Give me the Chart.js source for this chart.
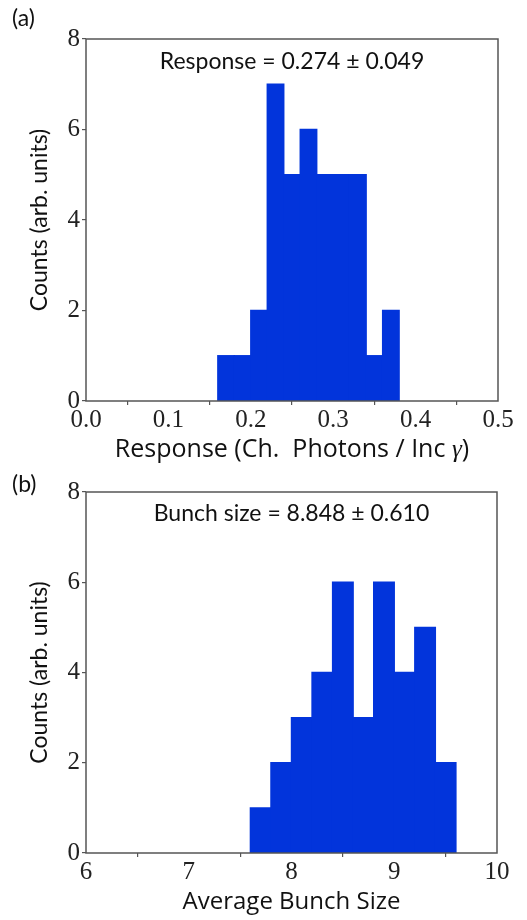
<!DOCTYPE html>
<html>
<head>
<meta charset="utf-8">
<script src="https://cdn.jsdelivr.net/npm/chart.js@4/dist/chart.umd.min.js"></script>
<style>
  body { margin: 0; background: #fff; }
  .panel { position: absolute; left: 0; width: 527px; }
  .tag { position: absolute; font-family: Lato, sans-serif; font-size: 23px; color: #111; }
</style>
</head>
<body>
<div class="panel" style="top:0;height:480px"><canvas id="chartA" width="527" height="480"></canvas></div>
<div class="panel" style="top:460px;height:460px"><canvas id="chartB" width="527" height="460"></canvas></div>
<div class="tag" style="left:12px;top:3px">(a)</div>
<div class="tag" style="left:12px;top:469px">(b)</div>
<script>
// histogram (a): response
const respEdges = [0.16, 0.18, 0.20, 0.22, 0.24, 0.26, 0.28, 0.30, 0.32, 0.34, 0.36, 0.38]
const respCounts = [1, 1, 2, 7, 5, 6, 5, 5, 5, 1, 2]
const respTicks = [0.0, 0.1, 0.2, 0.3, 0.4, 0.5]

// histogram (b): bunch size
const bunchEdges = [7.6, 7.8, 8.0, 8.2, 8.4, 8.6, 8.8, 9.0, 9.2, 9.4, 9.6]
const bunchCounts = [1, 2, 3, 4, 6, 3, 6, 4, 5, 2]
const bunchTicks = [6, 7, 8, 9, 10]

const countTicks = [0, 2, 4, 6, 8]

const barColor = '#0234db'
const axisColor = '#555'

// box round the plot area + note text + x title
const extras = {
  id: 'extras',
  afterDraw(chart, args, opts) {
    const {ctx, chartArea} = chart
    ctx.save()
    ctx.strokeStyle = axisColor
    ctx.lineWidth = 1.5
    ctx.strokeRect(chartArea.left, chartArea.top, chartArea.width, chartArea.height)
    const cx = (chartArea.left + chartArea.right) / 2
    ctx.fillStyle = '#111'
    ctx.textBaseline = 'middle'
    ctx.textAlign = 'center'
    ctx.font = '23px Lato, sans-serif'
    ctx.fillText(opts.note, cx + opts.noteDx, chartArea.top + opts.noteDy)
    // x title in parts (some parts italic)
    let total = 0
    opts.title.forEach(p => { ctx.font = p.font; total += ctx.measureText(p.text).width })
    let x = cx - total / 2
    ctx.textAlign = 'left'
    opts.title.forEach(p => {
      ctx.font = p.font
      ctx.fillText(p.text, x, chartArea.bottom + opts.titleDy)
      x += ctx.measureText(p.text).width
    })
    ctx.restore()
  }
}

const makeHist = (id, edges, counts, xTicks, xMin, xMax, fmt, pad, bottomH, extraOpts) => {
  const points = counts.map((c, i) => ({x: (edges[i] + edges[i + 1]) / 2, y: c}))
  return new Chart(document.getElementById(id), {
    type: 'bar',
    data: {
      datasets: [{
        data: points,
        backgroundColor: barColor,
        borderWidth: 0,
        inflateAmount: 0.7,
        barPercentage: 1,
        categoryPercentage: 1
      }]
    },
    plugins: [extras],
    options: {
      responsive: false,
      animation: false,
      layout: {padding: pad},
      plugins: {
        legend: {display: false},
        tooltip: {enabled: false},
        extras: extraOpts
      },
      scales: {
        x: {
          type: 'linear',
          offset: false,
          min: xMin,
          max: xMax,
          afterBuildTicks: s => { s.ticks = xTicks.map(v => ({value: v})) },
          afterFit: s => { s.height = bottomH },
          border: {display: false},
          grid: {drawOnChartArea: false, drawTicks: true, tickLength: 4, color: axisColor, lineWidth: 1.2},
          ticks: {
            color: '#222',
            padding: 0,
            maxRotation: 0,
            font: {family: 'Liberation Serif', size: 25},
            callback: v => fmt(v)
          }
        },
        y: {
          min: 0,
          max: 8,
          afterBuildTicks: s => { s.ticks = countTicks.map(v => ({value: v})) },
          afterFit: s => { s.width = 86 },
          border: {display: false},
          grid: {drawOnChartArea: false, drawTicks: true, tickLength: 4, color: axisColor, lineWidth: 1.2},
          ticks: {
            color: '#222',
            padding: 2,
            font: {family: 'Liberation Serif', size: 25}
          },
          title: {
            display: true,
            text: 'Counts (arb. units)',
            color: '#111',
            padding: {top: 26, bottom: 0},
            font: {family: 'Lato', size: 23}
          }
        }
      }
    }
  })
}

makeHist('chartA', respEdges, respCounts, respTicks, 0, 0.5, v => v.toFixed(1),
  {top: 39, right: 29, bottom: 20, left: 0}, 59,
  {
    note: 'Response = 0.274 \u00b1 0.049', noteDx: 0, noteDy: 23, titleDy: 49,
    title: [
      {text: 'Response (Ch.  Photons / Inc ', font: '25px "Open Sans", sans-serif'},
      {text: '\u03b3', font: 'italic 25px "Liberation Serif", serif'},
      {text: ')', font: '25px "Open Sans", sans-serif'}
    ]
  })

makeHist('chartB', bunchEdges, bunchCounts, bunchTicks, 6, 10, v => String(v),
  {top: 32, right: 30, bottom: 0, left: 0}, 67,
  {
    note: 'Bunch size = 8.848 \u00b1 0.610', noteDx: 0, noteDy: 22, titleDy: 49,
    title: [
      {text: 'Average Bunch Size', font: '24px "Open Sans", sans-serif'}
    ]
  })
</script>
</body>
</html>
